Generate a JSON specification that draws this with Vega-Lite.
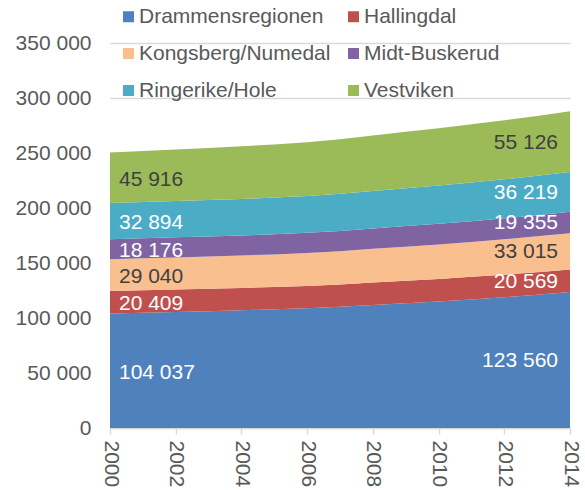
{
  "$schema": "https://vega.github.io/schema/vega-lite/v6.json",
  "width": 460,
  "height": 385,
  "autosize": {"type": "none"},
  "padding": {"left": 110, "top": 43, "right": 15, "bottom": 62},
  "config": {
    "locale": {"number": {"decimal": ",", "thousands": " ", "grouping": [3], "currency": ["", " kr"]}},
    "view": {"stroke": null},
    "font": "Liberation Sans"
  },
  "data": {"values": [
    {"year": 2000, "region": "Drammensregionen", "value": 104037},
    {"year": 2001, "region": "Drammensregionen", "value": 104800},
    {"year": 2002, "region": "Drammensregionen", "value": 105500},
    {"year": 2003, "region": "Drammensregionen", "value": 106200},
    {"year": 2004, "region": "Drammensregionen", "value": 107000},
    {"year": 2005, "region": "Drammensregionen", "value": 107900},
    {"year": 2006, "region": "Drammensregionen", "value": 108900},
    {"year": 2007, "region": "Drammensregionen", "value": 110200},
    {"year": 2008, "region": "Drammensregionen", "value": 111900},
    {"year": 2009, "region": "Drammensregionen", "value": 113500},
    {"year": 2010, "region": "Drammensregionen", "value": 115100},
    {"year": 2011, "region": "Drammensregionen", "value": 116900},
    {"year": 2012, "region": "Drammensregionen", "value": 118900},
    {"year": 2013, "region": "Drammensregionen", "value": 121100},
    {"year": 2014, "region": "Drammensregionen", "value": 123560},
    {"year": 2000, "region": "Hallingdal", "value": 20409},
    {"year": 2001, "region": "Hallingdal", "value": 20380},
    {"year": 2002, "region": "Hallingdal", "value": 20340},
    {"year": 2003, "region": "Hallingdal", "value": 20300},
    {"year": 2004, "region": "Hallingdal", "value": 20280},
    {"year": 2005, "region": "Hallingdal", "value": 20270},
    {"year": 2006, "region": "Hallingdal", "value": 20290},
    {"year": 2007, "region": "Hallingdal", "value": 20320},
    {"year": 2008, "region": "Hallingdal", "value": 20380},
    {"year": 2009, "region": "Hallingdal", "value": 20420},
    {"year": 2010, "region": "Hallingdal", "value": 20460},
    {"year": 2011, "region": "Hallingdal", "value": 20490},
    {"year": 2012, "region": "Hallingdal", "value": 20520},
    {"year": 2013, "region": "Hallingdal", "value": 20550},
    {"year": 2014, "region": "Hallingdal", "value": 20569},
    {"year": 2000, "region": "Kongsberg/Numedal", "value": 29040},
    {"year": 2001, "region": "Kongsberg/Numedal", "value": 29150},
    {"year": 2002, "region": "Kongsberg/Numedal", "value": 29250},
    {"year": 2003, "region": "Kongsberg/Numedal", "value": 29350},
    {"year": 2004, "region": "Kongsberg/Numedal", "value": 29480},
    {"year": 2005, "region": "Kongsberg/Numedal", "value": 29650},
    {"year": 2006, "region": "Kongsberg/Numedal", "value": 29900},
    {"year": 2007, "region": "Kongsberg/Numedal", "value": 30200},
    {"year": 2008, "region": "Kongsberg/Numedal", "value": 30600},
    {"year": 2009, "region": "Kongsberg/Numedal", "value": 30950},
    {"year": 2010, "region": "Kongsberg/Numedal", "value": 31300},
    {"year": 2011, "region": "Kongsberg/Numedal", "value": 31700},
    {"year": 2012, "region": "Kongsberg/Numedal", "value": 32150},
    {"year": 2013, "region": "Kongsberg/Numedal", "value": 32600},
    {"year": 2014, "region": "Kongsberg/Numedal", "value": 33015},
    {"year": 2000, "region": "Midt-Buskerud", "value": 18176},
    {"year": 2001, "region": "Midt-Buskerud", "value": 18190},
    {"year": 2002, "region": "Midt-Buskerud", "value": 18210},
    {"year": 2003, "region": "Midt-Buskerud", "value": 18230},
    {"year": 2004, "region": "Midt-Buskerud", "value": 18260},
    {"year": 2005, "region": "Midt-Buskerud", "value": 18300},
    {"year": 2006, "region": "Midt-Buskerud", "value": 18360},
    {"year": 2007, "region": "Midt-Buskerud", "value": 18450},
    {"year": 2008, "region": "Midt-Buskerud", "value": 18580},
    {"year": 2009, "region": "Midt-Buskerud", "value": 18700},
    {"year": 2010, "region": "Midt-Buskerud", "value": 18820},
    {"year": 2011, "region": "Midt-Buskerud", "value": 18950},
    {"year": 2012, "region": "Midt-Buskerud", "value": 19090},
    {"year": 2013, "region": "Midt-Buskerud", "value": 19230},
    {"year": 2014, "region": "Midt-Buskerud", "value": 19355},
    {"year": 2000, "region": "Ringerike/Hole", "value": 32894},
    {"year": 2001, "region": "Ringerike/Hole", "value": 32950},
    {"year": 2002, "region": "Ringerike/Hole", "value": 33020},
    {"year": 2003, "region": "Ringerike/Hole", "value": 33100},
    {"year": 2004, "region": "Ringerike/Hole", "value": 33200},
    {"year": 2005, "region": "Ringerike/Hole", "value": 33320},
    {"year": 2006, "region": "Ringerike/Hole", "value": 33480},
    {"year": 2007, "region": "Ringerike/Hole", "value": 33700},
    {"year": 2008, "region": "Ringerike/Hole", "value": 34050},
    {"year": 2009, "region": "Ringerike/Hole", "value": 34400},
    {"year": 2010, "region": "Ringerike/Hole", "value": 34750},
    {"year": 2011, "region": "Ringerike/Hole", "value": 35100},
    {"year": 2012, "region": "Ringerike/Hole", "value": 35450},
    {"year": 2013, "region": "Ringerike/Hole", "value": 35850},
    {"year": 2014, "region": "Ringerike/Hole", "value": 36219},
    {"year": 2000, "region": "Vestviken", "value": 45916},
    {"year": 2001, "region": "Vestviken", "value": 46400},
    {"year": 2002, "region": "Vestviken", "value": 46900},
    {"year": 2003, "region": "Vestviken", "value": 47400},
    {"year": 2004, "region": "Vestviken", "value": 47900},
    {"year": 2005, "region": "Vestviken", "value": 48400},
    {"year": 2006, "region": "Vestviken", "value": 48950},
    {"year": 2007, "region": "Vestviken", "value": 49600},
    {"year": 2008, "region": "Vestviken", "value": 50500},
    {"year": 2009, "region": "Vestviken", "value": 51300},
    {"year": 2010, "region": "Vestviken", "value": 52100},
    {"year": 2011, "region": "Vestviken", "value": 52900},
    {"year": 2012, "region": "Vestviken", "value": 53650},
    {"year": 2013, "region": "Vestviken", "value": 54400},
    {"year": 2014, "region": "Vestviken", "value": 55126}
  ]},
  "transform": [
    {"stack": "value", "groupby": ["year"], "sort": [{"field": "region", "order": "ascending"}], "as": ["y0", "y1"]},
    {"calculate": "(datum.y0 + datum.y1) / 2", "as": "ymid"}
  ],
  "layer": [
    {
      "mark": {"type": "area", "opacity": 1},
      "encoding": {
        "x": {
          "field": "year", "type": "quantitative",
          "scale": {"domain": [2000, 2014], "nice": false, "zero": false},
          "axis": {
            "title": null,
            "values": [2000,2001,2002,2003,2004,2005,2006,2007,2008,2009,2010,2011,2012,2013,2014],
            "format": "d",
            "labelExpr": "datum.value % 2 == 0 ? datum.label : ''",
            "labelAngle": 90,
            "labelFontSize": 21,
            "labelColor": "#595959",
            "labelPadding": 6,
            "labelFlush": false,
            "labelOverlap": false,
            "domainColor": "#d9d9d9",
            "domainWidth": 1.5,
            "tickColor": "#d9d9d9",
            "tickWidth": 1.5,
            "tickSize": 6,
            "grid": false
          }
        },
        "y": {
          "field": "y1", "type": "quantitative",
          "scale": {"domain": [0, 350000], "nice": false},
          "axis": {
            "title": null,
            "values": [0, 50000, 100000, 150000, 200000, 250000, 300000, 350000],
            "format": ",d",
            "labelFontSize": 21,
            "labelColor": "#595959",
            "labelPadding": 19,
            "domain": false,
            "ticks": false,
            "grid": true,
            "gridColor": "#d9d9d9",
            "gridWidth": 1.5
          }
        },
        "y2": {"field": "y0"},
        "color": {
          "field": "region", "type": "nominal",
          "scale": {
            "domain": ["Drammensregionen", "Hallingdal", "Kongsberg/Numedal", "Midt-Buskerud", "Ringerike/Hole", "Vestviken"],
            "range": ["#4F81BD", "#C0504D", "#F9BF8F", "#8064A2", "#4BACC6", "#9BBB59"]
          },
          "legend": {
            "title": null,
            "orient": "none",
            "legendX": 8,
            "legendY": -37,
            "direction": "horizontal",
            "columns": 2,
            "columnPadding": 12,
            "rowPadding": 15,
            "padding": 0,
            "symbolType": "square",
            "symbolSize": 121,
            "symbolStrokeWidth": 0,
            "symbolOpacity": 1,
            "labelFontSize": 21,
            "labelColor": "#595959",
            "labelOffset": 0,
            "labelLimit": 400
          }
        }
      }
    },
    {
      "transform": [{"filter": "datum.year == 2000"}],
      "mark": {"type": "text", "align": "left", "baseline": "middle", "dx": 9, "dy": 2, "fontSize": 21},
      "encoding": {
        "x": {"field": "year", "type": "quantitative"},
        "y": {"field": "ymid", "type": "quantitative"},
        "text": {"field": "value", "type": "quantitative", "format": ",d"},
        "color": {
          "condition": {"test": "datum.region == 'Kongsberg/Numedal' || datum.region == 'Vestviken'", "value": "#404040"},
          "value": "#ffffff"
        }
      }
    },
    {
      "transform": [{"filter": "datum.year == 2014"}],
      "mark": {"type": "text", "align": "right", "baseline": "middle", "dx": -12, "dy": 1, "fontSize": 21},
      "encoding": {
        "x": {"field": "year", "type": "quantitative"},
        "y": {"field": "ymid", "type": "quantitative"},
        "text": {"field": "value", "type": "quantitative", "format": ",d"},
        "color": {
          "condition": {"test": "datum.region == 'Kongsberg/Numedal' || datum.region == 'Vestviken'", "value": "#404040"},
          "value": "#ffffff"
        }
      }
    }
  ]
}
